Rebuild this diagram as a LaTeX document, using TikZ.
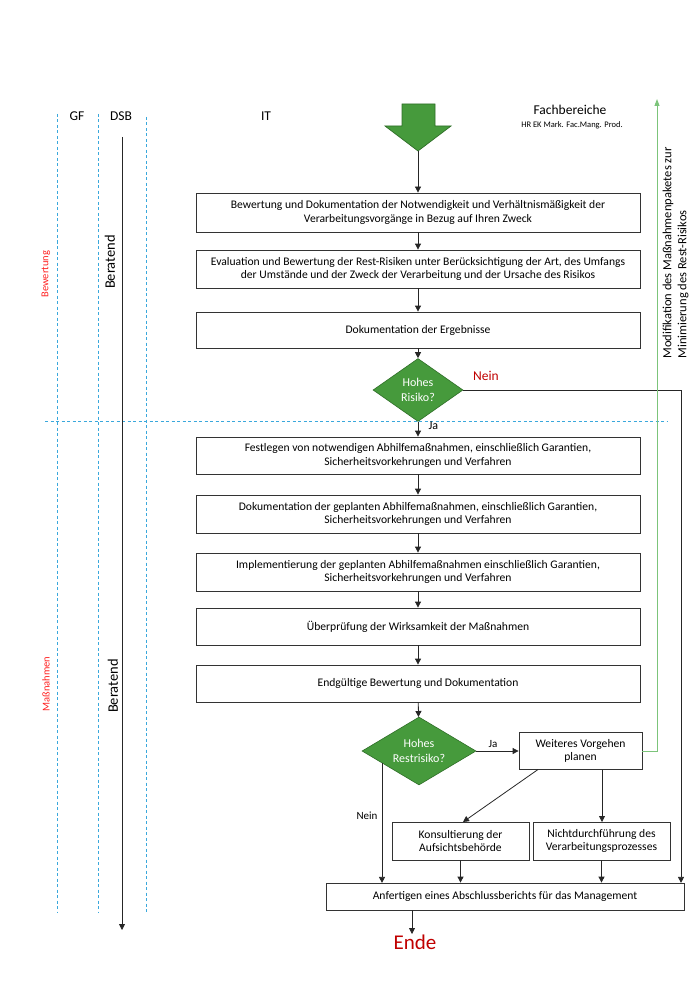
\documentclass[tikz,border=0pt]{standalone}
\usepackage{fontspec}
\setmainfont{Carlito}
\usetikzlibrary{shapes.geometric,arrows.meta}
\definecolor{lane}{HTML}{3AA8DC}
\definecolor{dgreen}{HTML}{469A3C}
\definecolor{dgreenb}{HTML}{2F6E28}
\definecolor{lgreen}{HTML}{7CC47A}
\definecolor{redt}{HTML}{C00000}
\definecolor{redl}{HTML}{FF2020}
\tikzset{
  box/.style={draw=black!80, line width=0.8pt, fill=white, align=center, inner sep=0pt,
    font=\fontsize{11.6}{13.5}\selectfont},
  wide/.style={box, minimum width=444pt, minimum height=38pt},
  dia/.style={diamond, draw=dgreenb, line width=0.6pt, fill=dgreen, inner sep=0pt},
  diatext/.style={text=white, align=center, font=\fontsize{12}{15}\selectfont},
  arr/.style={draw=black!85, line width=0.8pt, -{Triangle[length=6pt,width=6pt]}},
  lanel/.style={draw=lane, line width=0.9pt, dash pattern=on 3pt off 2.5pt},
  hdr/.style={font=\fontsize{13.5}{15}\selectfont},
}
\begin{document}
\begin{tikzpicture}[x=1pt,y=-1pt]
\path[use as bounding box] (0,0) rectangle (692,1000);
% swimlanes
\draw[lanel] (57,114) -- (57,913);
\draw[lanel] (98,114) -- (98,913);
\draw[lanel] (146,117) -- (146,913);
\draw[lanel] (45,421) -- (668,421);
\node[hdr] (gf) at (77,116) {GF};
\node[hdr] (dsb) at (121,116) {DSB};
\node[hdr] (it) at (266,116) {IT};
\node[font=\fontsize{13.5}{15}\selectfont] (fb) at (570,110) {Fachbereiche};
\node[font=\fontsize{8.5}{9}\selectfont] (fbs) at (572,125) {HR EK Mark. Fac.Mang. Prod.};
\coordinate (dtop) at (122,137);
\coordinate (dbot) at (122,930);
\draw[arr] (dtop) -- (dbot);
\node[font=\fontsize{14.5}{16}\selectfont, rotate=90] (ber1) at (110,262) {Beratend};
\node[font=\fontsize{14.5}{16}\selectfont, rotate=90] (ber2) at (113,686) {Beratend};
\node[rotate=90, text=redl, font=\fontsize{10.5}{12}\selectfont] (bew) at (46,274) {Bewertung};
\node[rotate=90, text=redl, font=\fontsize{10.5}{12}\selectfont] (mas) at (46,684) {Maßnahmen};
% big block arrow
\draw[fill=dgreen, draw=dgreenb, line width=0.7pt]
  (402,104) -- (435,104) -- (435,126) -- (451,126) -- (418,151) -- (385,126) -- (402,126) -- cycle;
\coordinate (start) at (418,151);
% boxes
\node[wide, minimum height=39pt] (b1) at (418,212.5) {Bewertung und Dokumentation der Notwendigkeit und Verhältnismäßigkeit der\\Verarbeitungsvorgänge in Bezug auf Ihren Zweck};
\node[wide] (b2) at (418,269) {Evaluation und Bewertung der Rest-Risiken unter Berücksichtigung der Art, des Umfangs\\der Umstände und der Zweck der Verarbeitung und der Ursache des Risikos};
\node[wide, minimum height=36pt] (b3) at (418,330) {Dokumentation der Ergebnisse};
\node[dia, minimum width=90pt, minimum height=63pt] (d1) at (418,390) {};
\node[diatext] (d1t) at (d1.center) {Hohes\\Risiko?};
\node[wide, minimum height=37pt] (b4) at (418,455.5) {Festlegen von notwendigen Abhilfemaßnahmen, einschließlich Garantien,\\Sicherheitsvorkehrungen und Verfahren};
\node[wide] (b5) at (418,514) {Dokumentation der geplanten Abhilfemaßnahmen, einschließlich Garantien,\\Sicherheitsvorkehrungen und Verfahren};
\node[wide] (b6) at (418,572) {Implementierung der geplanten Abhilfemaßnahmen einschließlich Garantien,\\Sicherheitsvorkehrungen und Verfahren};
\node[wide, minimum height=37pt] (b7) at (418,626.5) {Überprüfung der Wirksamkeit der Maßnahmen};
\node[wide, minimum height=37pt] (b8) at (418,683.5) {Endgültige Bewertung und Dokumentation};
\node[dia, minimum width=114pt, minimum height=68pt] (d2) at (419,751) {};
\node[diatext] (d2t) at (d2.center) {Hohes\\Restrisiko?};
\node[box, minimum width=123pt, minimum height=37pt] (b9) at (580.5,751) {Weiteres Vorgehen\\planen};
\node[box, minimum width=137pt, minimum height=38pt] (b10) at (460.5,841) {Konsultierung der\\Aufsichtsbehörde};
\node[box, minimum width=137pt, minimum height=38pt] (b11) at (601.5,841) {Nichtdurchführung des\\Verarbeitungsprozesses};
\node[box, minimum width=358pt, minimum height=27pt] (bf) at (505,896.5) {Anfertigen eines Abschlussberichts für das Management};
\node[text=redt, font=\fontsize{21}{24}\selectfont] (ende) at (415,942) {Ende};
% connectors
\draw[arr] (start) -- (b1.north);
\draw[arr] (b1) -- (b2);
\draw[arr] (b2) -- (b3);
\draw[arr] (b3) -- (d1);
\draw[arr] (d1) -- (b4);
\node[font=\fontsize{12}{13}\selectfont, anchor=west] (ja1) at (425,426) {Ja};
\draw[arr] (b4) -- (b5);
\draw[arr] (b5) -- (b6);
\draw[arr] (b6) -- (b7);
\draw[arr] (b7) -- (b8);
\draw[arr] (b8) -- (d2);
\draw[arr] (d2.east) -- (b9.west);
\node[font=\fontsize{11}{13}\selectfont] (ja2) at (493,744) {Ja};
\draw[arr] (d1.east) -- (681,390) -- (681,882.9);
\node[text=redt, font=\fontsize{13.5}{15}\selectfont] (nein1) at (486,376) {Nein};
\coordinate (d2n) at (382,763);
\draw[arr] (d2n) -- (382,882.9);
\node[font=\fontsize{11}{13}\selectfont] (nein2) at (367,816) {Nein};
\draw[arr] (538,769.5) -- (463,822);
\draw[arr] (602,769.5) -- (602,822);
\draw[arr] (b10.south) -- (b10.south |- bf.north);
\draw[arr] (b11.south) -- (b11.south |- bf.north);
\draw[arr] (412,910) -- (412,934);
% green feedback
\coordinate (gtop) at (657,99);
\draw[draw=lgreen, line width=0.9pt, -{Triangle[length=7pt,width=5pt]}] (b9.east) -- (657,751) -- (gtop);
\node[rotate=90, anchor=west, font=\fontsize{12.5}{15}\selectfont, align=left] (mod) at (675.5,362) {Modifikation des Maßnahmenpaketes zur\\Minimierung des Rest-Risikos};
\end{tikzpicture}
\end{document}
